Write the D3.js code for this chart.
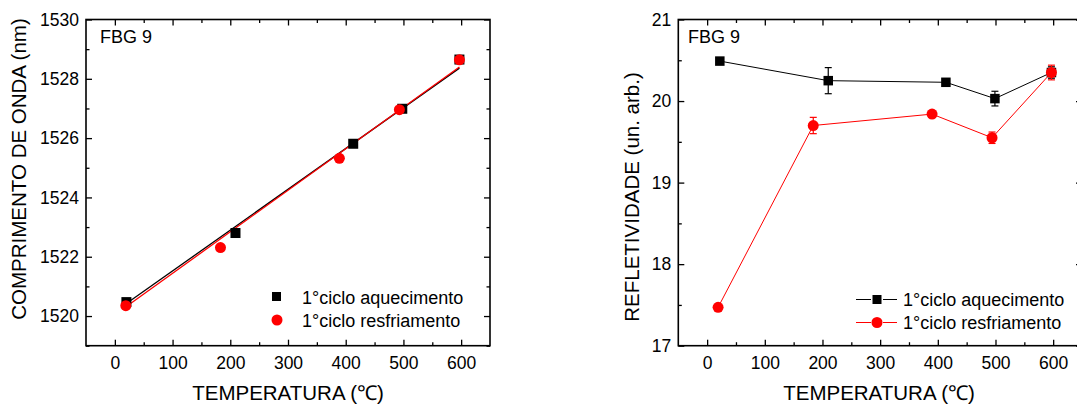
<!DOCTYPE html>
<html>
<head>
<meta charset="utf-8">
<script src="https://cdn.jsdelivr.net/npm/d3@7"></script>
<style>
  html, body { margin: 0; padding: 0; background: #fff; }
  svg { display: block; }
  text { font-family: "Liberation Sans", Arial, sans-serif; fill: #000; }
</style>
</head>
<body>
<svg id="chart" width="1077" height="406"></svg>
<script>
// ---------- data ----------
const xMajorTicks = [0, 100, 200, 300, 400, 500, 600];
const xMinorTicks = [50, 150, 250, 350, 450, 550];

// Left panel: wavelength vs temperature
const tempHeatL = [20, 209, 413, 498, 597];
const waveHeat  = [1520.47, 1522.80, 1525.81, 1526.99, 1528.65];
const tempCoolL = [19, 183, 389, 493, 597];
const waveCool  = [1520.35, 1522.31, 1525.32, 1526.96, 1528.64];
// linear-fit lines as drawn in the figure (endpoints)
const fitTemps    = [20, 597];
const fitHeatWave = [1520.42, 1528.36];
const fitCoolWave = [1520.32, 1528.40];
const yLeftMajorTicks = [1520, 1522, 1524, 1526, 1528, 1530];
const yLeftMinorTicks = [1519, 1521, 1523, 1525, 1527, 1529];

// Right panel: reflectivity vs temperature
const tempHeatR   = [22, 210, 414, 499, 597];
const reflHeat    = [20.49, 20.25, 20.23, 20.03, 20.35];
const reflHeatErr = [0.02, 0.16, 0.03, 0.09, 0.07];
const tempCoolR   = [19, 184, 390, 494, 597];
const reflCool    = [17.47, 19.70, 19.84, 19.55, 20.35];
const reflCoolErr = [0.02, 0.10, 0.02, 0.07, 0.09];
const yRightMajorTicks = [17, 18, 19, 20, 21];
const yRightMinorTicks = [17.5, 18.5, 19.5, 20.5];

const labelText = "FBG 9";
const legendHeat = "1°ciclo aquecimento";
const legendCool = "1°ciclo resfriamento";
const xTitle = "TEMPERATURA (℃)";
const yTitleLeft = "COMPRIMENTO DE ONDA (nm)";
const yTitleRight = "REFLETIVIDADE (un. arb.)";

// ---------- helpers ----------
const svg = d3.select("#chart");
const TICK_FONT = 17.5, TITLE_FONT = 20.5, LEG_FONT = 18;

function frameAndAxes(g, x, y, yMajor, yMinor, fmtY) {
  const [x0, x1] = x.range();
  const [y0, y1] = y.range(); // y0 bottom, y1 top
  const styleAxis = sel => {
    sel.select(".domain").remove();
    sel.selectAll(".tick line").attr("stroke", "#000").attr("stroke-width", 1.3);
    sel.selectAll(".tick text").style("font-size", TICK_FONT + "px")
      .style("font-family", "'Liberation Sans', Arial, sans-serif").attr("fill", "#000");
  };
  // bottom
  g.append("g").attr("transform", `translate(0,${y0})`)
    .call(d3.axisBottom(x).tickValues(xMajorTicks).tickSize(-6).tickPadding(10.5).tickFormat(d3.format("d")))
    .call(styleAxis);
  g.append("g").attr("transform", `translate(0,${y0})`)
    .call(d3.axisBottom(x).tickValues(xMinorTicks).tickSize(-3.5).tickFormat(""))
    .call(styleAxis);
  // top
  g.append("g").attr("transform", `translate(0,${y1})`)
    .call(d3.axisTop(x).tickValues(xMajorTicks).tickSize(-6).tickFormat(""))
    .call(styleAxis);
  g.append("g").attr("transform", `translate(0,${y1})`)
    .call(d3.axisTop(x).tickValues(xMinorTicks).tickSize(-3.5).tickFormat(""))
    .call(styleAxis);
  // left
  g.append("g").attr("transform", `translate(${x0},0)`)
    .call(d3.axisLeft(y).tickValues(yMajor).tickSize(-6).tickPadding(7).tickFormat(fmtY))
    .call(styleAxis);
  g.append("g").attr("transform", `translate(${x0},0)`)
    .call(d3.axisLeft(y).tickValues(yMinor).tickSize(-3.5).tickFormat(""))
    .call(styleAxis);
  // right
  g.append("g").attr("transform", `translate(${x1},0)`)
    .call(d3.axisRight(y).tickValues(yMajor).tickSize(-6).tickFormat(""))
    .call(styleAxis);
  g.append("g").attr("transform", `translate(${x1},0)`)
    .call(d3.axisRight(y).tickValues(yMinor).tickSize(-3.5).tickFormat(""))
    .call(styleAxis);
  // frame
  g.append("rect").attr("x", x0).attr("y", y1)
    .attr("width", x1 - x0).attr("height", y0 - y1)
    .attr("fill", "none").attr("stroke", "#000").attr("stroke-width", 1.6);
}

function squares(g, xs, ys, x, y, size, color) {
  g.selectAll(null).data(xs.map((t, i) => [t, ys[i]])).enter().append("rect")
    .attr("x", d => x(d[0]) - size / 2).attr("y", d => y(d[1]) - size / 2)
    .attr("width", size).attr("height", size).attr("fill", color);
}
function circles(g, xs, ys, x, y, r, color) {
  g.selectAll(null).data(xs.map((t, i) => [t, ys[i]])).enter().append("circle")
    .attr("cx", d => x(d[0])).attr("cy", d => y(d[1])).attr("r", r).attr("fill", color);
}
function errorBars(g, xs, ys, es, x, y, color) {
  const data = xs.map((t, i) => [t, ys[i], es[i]]);
  const eg = g.append("g").attr("stroke", color).attr("stroke-width", 1.2);
  data.forEach(d => {
    const cx = x(d[0]), yt = y(d[1] + d[2]), yb = y(d[1] - d[2]);
    eg.append("line").attr("x1", cx).attr("x2", cx).attr("y1", yt).attr("y2", yb);
    eg.append("line").attr("x1", cx - 3.5).attr("x2", cx + 3.5).attr("y1", yt).attr("y2", yt);
    eg.append("line").attr("x1", cx - 3.5).attr("x2", cx + 3.5).attr("y1", yb).attr("y2", yb);
  });
}

// ---------- left panel ----------
const xL = d3.scaleLinear().domain([-50, 650]).range([86, 490]);
const yL = d3.scaleLinear().domain([1519, 1530]).range([345.7, 19.5]);
const gL = svg.append("g");
frameAndAxes(gL, xL, yL, yLeftMajorTicks, yLeftMinorTicks, d3.format("d"));

const line = d3.line();
gL.append("path").attr("d", line(fitTemps.map((t, i) => [xL(t), yL(fitHeatWave[i])])))
  .attr("stroke", "#000").attr("stroke-width", 1.3).attr("fill", "none");
gL.append("path").attr("d", line(fitTemps.map((t, i) => [xL(t), yL(fitCoolWave[i])])))
  .attr("stroke", "#f00").attr("stroke-width", 1.3).attr("fill", "none");
squares(gL, tempHeatL, waveHeat, xL, yL, 10, "#000");
circles(gL, tempCoolL, waveCool, xL, yL, 5.5, "#f00");

gL.append("text").attr("x", 100).attr("y", 43).style("font-size", "18px").text(labelText);
// legend
gL.append("rect").attr("x", 272).attr("y", 292).attr("width", 9).attr("height", 9).attr("fill", "#000");
gL.append("circle").attr("cx", 277).attr("cy", 320).attr("r", 5.5).attr("fill", "#f00");
gL.append("text").attr("x", 302).attr("y", 303.5).style("font-size", LEG_FONT + "px").text(legendHeat);
gL.append("text").attr("x", 302).attr("y", 326.5).style("font-size", LEG_FONT + "px").text(legendCool);
// titles
gL.append("text").attr("x", 288).attr("y", 400).attr("text-anchor", "middle")
  .style("font-size", TITLE_FONT + "px").text(xTitle);
gL.append("text").attr("transform", "translate(26,169) rotate(-90)").attr("text-anchor", "middle")
  .style("font-size", TITLE_FONT + "px").text(yTitleLeft);

// ---------- right panel ----------
const xR = d3.scaleLinear().domain([-50, 650]).range([678.3, 1082]);
const yR = d3.scaleLinear().domain([17, 21]).range([345.7, 19.5]);
const gR = svg.append("g");
frameAndAxes(gR, xR, yR, yRightMajorTicks, yRightMinorTicks, d3.format("d"));

const lineR = d3.line();
// heating series
gR.append("path").attr("d", lineR(tempHeatR.map((t, i) => [xR(t), yR(reflHeat[i])])))
  .attr("stroke", "#000").attr("stroke-width", 1).attr("fill", "none");
errorBars(gR, tempHeatR, reflHeat, reflHeatErr, xR, yR, "#000");
squares(gR, tempHeatR, reflHeat, xR, yR, 9.5, "#000");
// cooling series
gR.append("path").attr("d", lineR(tempCoolR.map((t, i) => [xR(t), yR(reflCool[i])])))
  .attr("stroke", "#f00").attr("stroke-width", 1).attr("fill", "none");
errorBars(gR, tempCoolR, reflCool, reflCoolErr, xR, yR, "#f00");
circles(gR, tempCoolR, reflCool, xR, yR, 5.5, "#f00");

gR.append("text").attr("x", 688).attr("y", 43).style("font-size", "18px").text(labelText);
// legend
gR.append("line").attr("x1", 856).attr("x2", 871).attr("y1", 299.5).attr("y2", 299.5).attr("stroke", "#000");
gR.append("line").attr("x1", 883).attr("x2", 897).attr("y1", 299.5).attr("y2", 299.5).attr("stroke", "#000");
gR.append("rect").attr("x", 872.5).attr("y", 295).attr("width", 9).attr("height", 9).attr("fill", "#000");
gR.append("line").attr("x1", 856).attr("x2", 871).attr("y1", 322.5).attr("y2", 322.5).attr("stroke", "#f00");
gR.append("line").attr("x1", 883).attr("x2", 897).attr("y1", 322.5).attr("y2", 322.5).attr("stroke", "#f00");
gR.append("circle").attr("cx", 877).attr("cy", 322.5).attr("r", 5.5).attr("fill", "#f00");
gR.append("text").attr("x", 903).attr("y", 306).style("font-size", LEG_FONT + "px").text(legendHeat);
gR.append("text").attr("x", 903).attr("y", 329).style("font-size", LEG_FONT + "px").text(legendCool);
// titles
gR.append("text").attr("x", 879).attr("y", 400).attr("text-anchor", "middle")
  .style("font-size", TITLE_FONT + "px").text(xTitle);
gR.append("text").attr("transform", "translate(638.5,197) rotate(-90)").attr("text-anchor", "middle")
  .style("font-size", TITLE_FONT + "px").text(yTitleRight);
</script>
</body>
</html>
